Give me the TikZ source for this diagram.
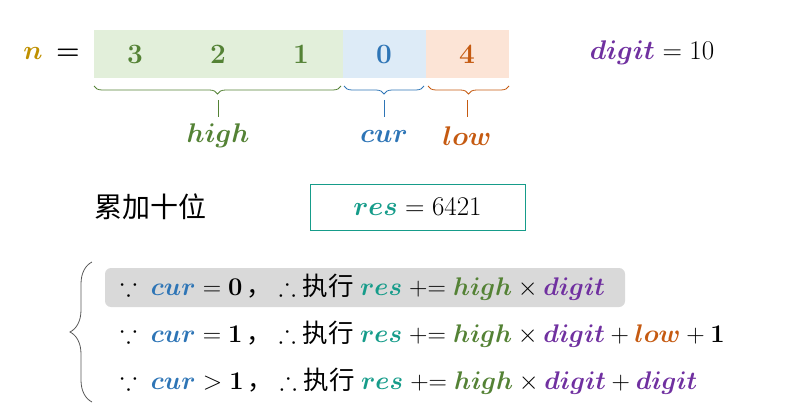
\documentclass[tikz,border=0pt]{standalone}
\usepackage{fix-cm}
\usepackage{amsmath,amssymb,bm}
\usepackage[no-math]{fontspec}
\setmainfont{Noto Sans}
\newfontfamily\cjk{Noto Sans CJK SC}
\usetikzlibrary{decorations.pathreplacing}
\definecolor{cg}{HTML}{548235}
\definecolor{cb}{HTML}{2E75B6}
\definecolor{co}{HTML}{C55A11}
\definecolor{cp}{HTML}{7030A0}
\definecolor{ct}{HTML}{169C8A}
\definecolor{cy}{HTML}{BF9000}
\definecolor{fg}{HTML}{E2EFDA}
\definecolor{fb}{HTML}{DDEBF7}
\definecolor{fo}{HTML}{FCE4D6}
\newcommand{\vh}{\textcolor{cg}{\bm{high}}}
\newcommand{\vc}{\textcolor{cb}{\bm{cur}}}
\newcommand{\vl}{\textcolor{co}{\bm{low}}}
\newcommand{\vd}{\textcolor{cp}{\bm{digit}}}
\newcommand{\vr}{\textcolor{ct}{\bm{res}}}
\begin{document}
\begin{tikzpicture}[x=1pt,y=-1pt,font=\fontsize{25.5}{30}\selectfont,
  dig/.style={font=\fontsize{28}{32}\selectfont},
  lab/.style={font=\fontsize{27}{31}\selectfont},
  br/.style={decorate,decoration={brace,amplitude=8pt,mirror},line width=0.8pt},
  line/.style={anchor=west,inner sep=0pt}]
\useasboundingbox (0,0) rectangle (785,404);
\node[lab] (n) at (33,54) {$\textcolor{cy}{\bm{n}}$};
\node[lab] (eq) at (68,54) {$\bm{=}$};
\fill[fg] (94,30) rectangle (343,78);
\fill[fb] (343,30) rectangle (426,78);
\fill[fo] (426,30) rectangle (509,78);
\node[dig,text=cg] (d3) at (135,54) {$\mathbf{3}$};
\node[dig,text=cg] (d2) at (218,54) {$\mathbf{2}$};
\node[dig,text=cg] (d1) at (301,54) {$\mathbf{1}$};
\node[dig,text=cb] (d0) at (384,54) {$\mathbf{0}$};
\node[dig,text=co] (d4) at (467,54) {$\mathbf{4}$};
\node[lab] (dg) at (652,53) {$\vd = 10$};
\draw[br,cg] (94,86) -- (341,86);
\draw[cg,line width=0.8pt] (218,100) -- (218,117);
\draw[br,cb] (344,86) -- (424,86);
\draw[cb,line width=0.8pt] (384,100) -- (384,117);
\draw[br,co] (428,86) -- (509,86);
\draw[co,line width=0.8pt] (467,100) -- (467,117);
\node[lab] (lh) at (218,136) {$\vh$};
\node[lab] (lc) at (384,136) {$\vc$};
\node[lab] (ll) at (467,136) {$\vl$};
\node (acc) at (150,207) {\fontsize{28}{32}\selectfont\cjk 累加十位};
\node[lab,draw=ct,line width=0.8pt,minimum width=215pt,minimum height=46pt] (res) at (417.5,207) {$\vr = 6421$};
\draw[decorate,decoration={brace,amplitude=22pt},line width=0.8pt,gray!70!black] (92,402) -- (92,262);
\fill[black!15,rounded corners=6pt] (105,268) rectangle (625,307);
\node[line] (l1) at (120,287) {$\because\ \vc = \mathbf{0}$\,{\cjk ，}\ $\therefore$ {\cjk 执行} $\vr \mathrel{+}= \vh \times \vd$};
\node[line] (l2) at (120,334) {$\because\ \vc = \mathbf{1}$\,{\cjk ，}\ $\therefore$ {\cjk 执行} $\vr \mathrel{+}= \vh \times \vd + \vl + \mathbf{1}$};
\node[line] (l3) at (120,381) {$\because\ \vc > \mathbf{1}$\,{\cjk ，}\ $\therefore$ {\cjk 执行} $\vr \mathrel{+}= \vh \times \vd + \vd$};
\end{tikzpicture}
\end{document}
